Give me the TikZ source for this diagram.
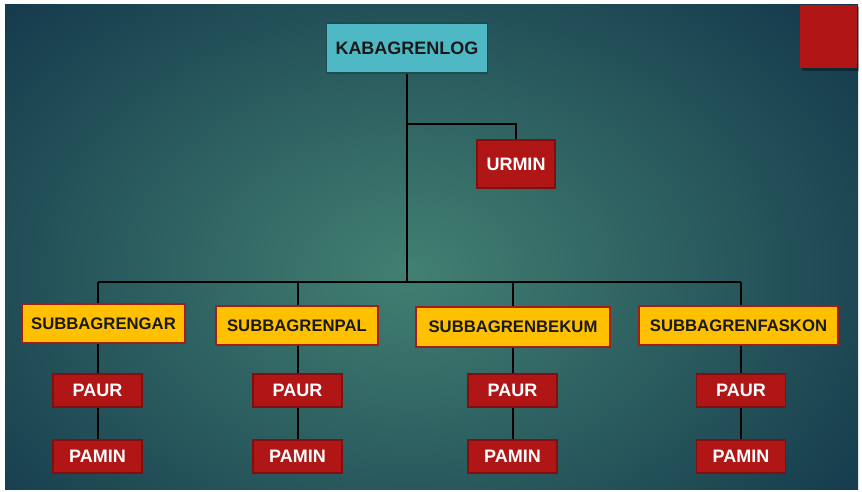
\documentclass[tikz,border=0pt]{standalone}
\usepackage{fontspec}
\setmainfont{Liberation Sans}
\usepackage{tikz}
\usetikzlibrary{calc}
\usetikzlibrary{positioning}

\definecolor{bgin}{RGB}{66,128,114}
\definecolor{bgout}{RGB}{18,54,74}
\definecolor{kabfill}{RGB}{78,184,196}
\definecolor{kabline}{RGB}{24,78,84}
\definecolor{subfill}{RGB}{255,192,0}
\definecolor{subline}{RGB}{160,30,20}
\definecolor{redfill}{RGB}{176,22,22}
\definecolor{redline}{RGB}{130,14,14}

\begin{document}
\begin{tikzpicture}[x=1pt,y=-1pt,
        kabbox/.style={draw=kabline,line width=1.5pt,fill=kabfill,inner sep=0pt,
            minimum width=161pt,minimum height=50pt,font=\fontsize{18}{20}\selectfont\bfseries,text=black!90},
        subbox/.style={draw=subline,line width=1.5pt,fill=subfill,inner sep=0pt,
            minimum height=39pt,font=\fontsize{16.7}{19}\selectfont\bfseries,text=black!90},
        redbox/.style={draw=redline,line width=1.5pt,fill=redfill,inner sep=0pt,
            minimum width=89pt,minimum height=33pt,font=\fontsize{18}{20}\selectfont\bfseries,text=white},
        link/.style={line width=2pt,black}]
        \useasboundingbox[fill=white] (0,0) rectangle (862,492);
        \begin{scope}
            \clip (5,5) rectangle (858,489);
            \shade[inner color=bgin,outer color=bgout] (-180,-140) rectangle (1000,680);
        \end{scope}
        % corner mark
        \fill[black,opacity=0.35] (802,7) rectangle (859,71);
        \fill[redfill] (800,5) rectangle (857,68);

        \node[kabbox] (kab) at (407,48) {KABAGRENLOG};
        \node[redbox,minimum width=78pt,minimum height=48pt] (urm) at (516,164) {URMIN};
        \coordinate (split) at (407,124);
        \coordinate (bus) at (407,282);

        \node[subbox,minimum width=163pt] (s1) at (103.5,323.5) {SUBBAGRENGAR};
        \node[subbox,minimum width=162pt] (s2) at (297,325.5) {SUBBAGRENPAL};
        \node[subbox,minimum width=194pt,minimum height=40pt] (s3) at (513,327) {SUBBAGRENBEKUM};
        \node[subbox,minimum width=199pt] (s4) at (738.5,325.5) {SUBBAGRENFASKON};

        \foreach \i/\x in {1/97.5,2/297.5,3/512.5,4/741}{
            \node[redbox] (p\i) at (\x,390.5) {PAUR};
            \node[redbox] (m\i) at (\x,456.5) {PAMIN};
        }

        \draw[link] (kab) -- (bus);
        \draw[link] (split) -| (urm);
        \draw[link] (p1.north |- bus) -- (p4.north |- bus);
        \foreach \i in {1,...,4}{
            \draw[link] (p\i.north |- bus) -- (p\i.north |- s\i.north);
            \draw[link] (p\i.north |- s\i.south) -- (p\i);
            \draw[link] (p\i) -- (m\i);
        }
    \end{tikzpicture}
\end{document}
